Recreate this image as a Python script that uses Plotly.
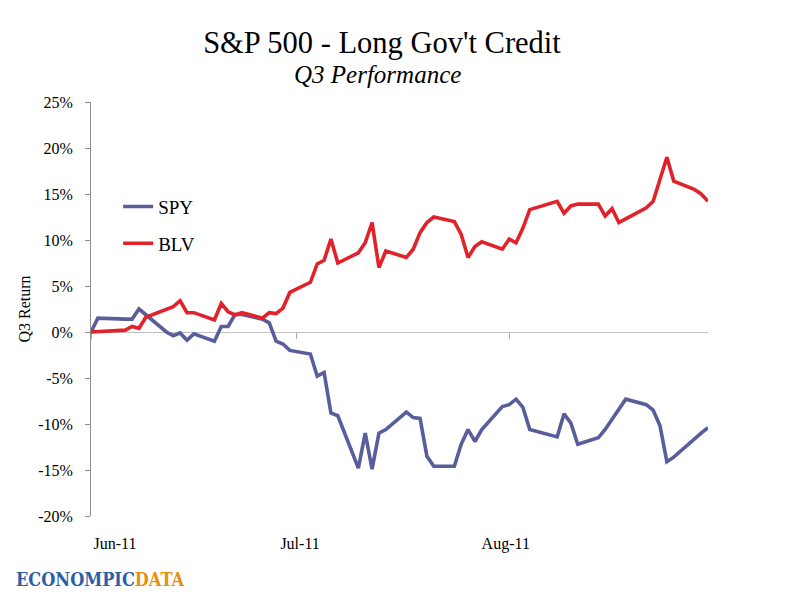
import plotly.graph_objects as go

# trading days of Q3 2011 shown in the chart
dates = [
    "2011-06-30",
    "2011-07-01", "2011-07-05", "2011-07-06", "2011-07-07", "2011-07-08",
    "2011-07-11", "2011-07-12", "2011-07-13", "2011-07-14", "2011-07-15",
    "2011-07-18", "2011-07-19", "2011-07-20", "2011-07-21", "2011-07-22",
    "2011-07-25", "2011-07-26", "2011-07-27", "2011-07-28", "2011-07-29",
    "2011-08-01", "2011-08-02", "2011-08-03", "2011-08-04", "2011-08-05",
    "2011-08-08", "2011-08-09", "2011-08-10", "2011-08-11", "2011-08-12",
    "2011-08-15", "2011-08-16", "2011-08-17", "2011-08-18", "2011-08-19",
    "2011-08-22", "2011-08-23", "2011-08-24", "2011-08-25", "2011-08-26",
    "2011-08-29", "2011-08-30", "2011-08-31",
    "2011-09-01", "2011-09-02",
    "2011-09-06", "2011-09-07", "2011-09-08", "2011-09-09",
    "2011-09-12", "2011-09-13", "2011-09-14", "2011-09-15", "2011-09-16",
    "2011-09-19", "2011-09-20", "2011-09-21", "2011-09-22", "2011-09-23",
    "2011-09-26", "2011-09-27", "2011-09-28",
]

# Q3 return in %
spy = [
    0.0,
    1.5, 1.4, 1.4, 2.5, 1.9,
    0.0, -0.4, -0.1, -0.9, -0.2,
    -1.0, 0.6, 0.6, 1.9, 1.9,
    1.4, 1.0, -1.0, -1.3, -2.0,
    -2.4, -4.8, -4.4, -8.8, -9.1,
    -14.8, -11.0, -14.9, -11.0, -10.6,
    -8.7, -9.3, -9.4, -13.5, -14.6,
    -14.6, -12.2, -10.6, -11.9, -10.6,
    -8.1, -7.9, -7.3,
    -8.2, -10.6,
    -11.4, -8.9, -9.9, -12.2,
    -11.5, -10.6, -9.5, -8.3, -7.3,
    -7.9, -8.5, -10.2, -14.1, -13.6,
    -11.6, -11.0, -10.4,
]

blv = [
    0.0,
    0.05, 0.2, 0.6, 0.4, 1.6,
    2.4, 2.75, 3.4, 2.1, 2.1,
    1.3, 3.1, 2.2, 1.85, 2.1,
    1.5, 2.1, 2.0, 2.6, 4.3,
    5.4, 7.4, 7.8, 10.1, 7.5,
    8.6, 9.7, 11.9, 7.0, 8.8,
    8.1, 9.0, 10.8, 11.9, 12.5,
    12.0, 10.6, 8.1, 9.3, 9.8,
    9.0, 10.1, 9.7,
    11.3, 13.3,
    14.2, 12.9, 13.7, 13.9,
    13.9, 12.6, 13.4, 11.9, 12.3,
    13.5, 14.2, 16.5, 19.0, 16.4,
    15.5, 15.0, 14.2,
]

tick_dates = ["2011-06-30", "2011-07-30", "2011-08-30"]
label_dates = ["2011-07-03 12:00", "2011-07-30 12:00", "2011-08-29 12:00"]
label_text = ["Jun-11", "Jul-11", "Aug-11"]
y_ticks = [-20, -15, -10, -5, 0, 5, 10, 15, 20, 25]
y_labels = [f"{v}%" for v in y_ticks]

serif = "Liberation Serif"
x_range = [dates[0], dates[-1]]
y_range = [-20, 25]

# the page body adds an 8px offset, so the figure is laid out 8px smaller
W, H, OFF = 792, 592, 8

fig = go.Figure()
fig.add_trace(go.Scatter(x=dates, y=spy, name="SPY", mode="lines",
                         line=dict(color="#5a5d9b", width=3.6),
                         legendgroup="spy"))
fig.add_trace(go.Scatter(x=dates, y=blv, name="BLV", mode="lines",
                         line=dict(color="#e1222b", width=3.6),
                         legendgroup="blv"))
# invisible copy so the zero-crossing axis (ticks + line) gets drawn
fig.add_trace(go.Scatter(x=dates, y=spy, xaxis="x2", mode="lines",
                         line=dict(width=0), opacity=0, showlegend=False,
                         hoverinfo="skip"))

fig.update_layout(
    width=W, height=H,
    margin=dict(l=91 - OFF, r=92, t=102 - OFF, b=84),
    plot_bgcolor="white", paper_bgcolor="white",
    font=dict(family=serif, size=16, color="black"),
    title=dict(text="S&P 500 - Long Gov't Credit", xref="container", yref="container",
               x=(382 - OFF) / W, y=1 - (42 - OFF) / H, xanchor="center", yanchor="middle",
               font=dict(family=serif, size=30.5, color="black")),
    showlegend=True,
    legend=dict(x=0.044, y=0.793, xanchor="left", yanchor="top",
                font=dict(family=serif, size=19, color="black"),
                bgcolor="rgba(0,0,0,0)", tracegroupgap=9,
                traceorder="grouped"),
    xaxis=dict(type="date", range=x_range, showgrid=False, showline=False,
               zeroline=False, ticks="", tickvals=label_dates, ticktext=label_text,
               ticklabelstandoff=16, automargin=False,
               tickfont=dict(family=serif, size=16)),
    xaxis2=dict(type="date", overlaying="x", anchor="free",
                position=(0 - y_range[0]) / (y_range[1] - y_range[0]),
                range=x_range, showgrid=False, zeroline=False,
                showline=True, linecolor="#c0c0c0", linewidth=1.3,
                ticks="outside", ticklen=6, tickcolor="#a8a8a8", tickwidth=1,
                tickvals=tick_dates, showticklabels=False, automargin=False,
                layer="below traces"),
    yaxis=dict(range=y_range, tickvals=y_ticks, ticktext=y_labels,
               showgrid=False, zeroline=False, showline=True,
               linecolor="#8c8c8c", linewidth=1, ticks="outside", ticklen=5,
               tickcolor="#8c8c8c", ticklabelstandoff=9, automargin=False,
               tickfont=dict(family=serif, size=16),
               title=dict(text="Q3 Return", standoff=3,
                          font=dict(family=serif, size=16))),
)

# subtitle
fig.add_annotation(text="<i>Q3 Performance</i>", xref="paper", yref="paper",
                   x=(377 - 91) / 617, y=(516 - 75) / 414,
                   xanchor="center", yanchor="middle", showarrow=False,
                   font=dict(family=serif, size=25, color="black"))

# logo
fig.add_annotation(
    text="<b><span style='color:#2a5ea8'>ECONOMPIC</span>"
         "<span style='color:#e8900e'>DATA</span></b>",
    xref="paper", yref="paper",
    x=(14 - 91) / 617, y=(516 - 579) / 414,
    xanchor="left", yanchor="middle", showarrow=False,
    font=dict(family="DejaVu Serif Condensed", size=18))

fig.write_html("out.html")
